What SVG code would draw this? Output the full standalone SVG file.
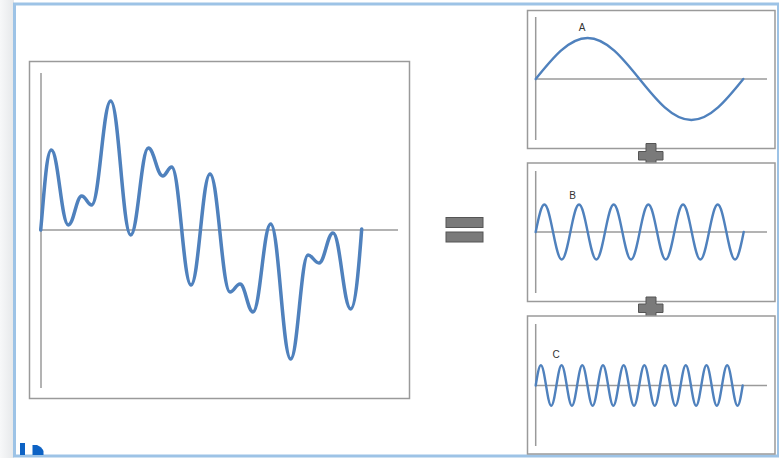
<svg xmlns="http://www.w3.org/2000/svg" width="779" height="458" viewBox="0 0 779 458">
<defs>
<linearGradient id="shade" x1="0" y1="0" x2="1" y2="0">
<stop offset="0" stop-color="#f7f8f9"/>
<stop offset="1" stop-color="#e6e8ea"/>
</linearGradient>
</defs>
<style>
.frame{fill:#fff;stroke:#9a9a9a;stroke-width:1.5}
.axis{stroke:#9a9a9a;stroke-width:1.5;fill:none}
.wave{fill:none;stroke:#4f81bd;stroke-width:2.4;stroke-linejoin:round;stroke-linecap:round}
.bigwave{fill:none;stroke:#4f81bd;stroke-width:3.5;stroke-linejoin:round;stroke-linecap:round}
.op{fill:#7a7a7a;stroke:#555;stroke-width:1}
.lbl{font-family:"Liberation Sans",Arial,sans-serif;font-size:10px;fill:#333;text-anchor:middle}
</style>
<rect x="0" y="0" width="779" height="458" fill="#fff"/>
<rect x="0" y="0" width="14" height="458" fill="url(#shade)"/>
<rect x="14.5" y="4" width="764" height="452" fill="#fff" stroke="#9dc3e6" stroke-width="3"/>
<g id="icons" fill="#0d62c4">
<rect x="20" y="443" width="5" height="12"/>
<path d="M32.5,445 L37,445 Q42,447 43.5,451 L43.5,455 L32.5,455 Z"/>
</g>
<g id="main-chart">
<rect class="frame" x="29.5" y="61.5" width="380" height="337" stroke="#8c8c8c" stroke-width="2"/>
<line class="axis" x1="41" y1="73" x2="41" y2="388"/>
<line class="axis" x1="41" y1="230" x2="398" y2="230"/>
<path class="bigwave" d="M40.7,230 C44,195 46.5,150 51.3,150 C58.1,150 61.5,225 68.3,225 C73.7,225 76.3,196 81.7,196 C85.7,196 87.7,205 91.7,205 C99.3,205 103.1,101 110.7,101 C118.7,101 122.7,235 130.7,235 C137.7,235 141.3,148 148.3,148 C154.1,148 156.9,176 162.7,176 C166.3,176 168.1,167 171.7,167 C179.4,167 183.3,285 191,285 C198.6,285 202.4,174 210,174 C218,174 222,292 230,292 C234,292 236,284 240,284 C245.2,284 247.8,312 253,312 C260.1,312 263.6,224 270.7,224 C278.7,224 282.7,359 290.7,359 C297.6,359 301.1,255 308,255 C312.4,255 314.6,263 319,263 C324.6,263 327.4,233 333,233 C340.1,233 343.6,309 350.7,309 C355.5,309 359,265 361.7,229"/>
</g>
<g id="equals">
<rect class="op" x="446" y="217.5" width="37" height="10"/>
<rect class="op" x="446" y="232" width="37" height="10"/>
</g>
<g id="panel-a">
<rect class="frame" x="527.5" y="10.5" width="247.5" height="138"/>
<line class="axis" x1="535.7" y1="17" x2="535.7" y2="140"/>
<line class="axis" x1="535.7" y1="79" x2="767" y2="79"/>
<path class="wave" d="M535.7,79 C552.6,58 568.8,38 587.6,38 C606.4,38 622.6,58 639.5,79 C656.4,100 672.6,120 691.4,120 C710.2,120 726.4,100 743.3,79"/>
<text class="lbl" x="582" y="30.5">A</text>
</g>
<g id="plus-1">
<path class="op" d="M646,143.5 H656 V151.5 H663 V160 H656 V167 H646 V160 H638.5 V151.5 H646 Z"/>
</g>
<g id="panel-b">
<rect class="frame" x="527.5" y="163" width="247.5" height="138.5"/>
<line class="axis" x1="535.7" y1="171" x2="535.7" y2="293"/>
<line class="axis" x1="535.7" y1="232" x2="767" y2="232"/>
<path class="wave" d="M535.7,232 c2.827,-14.09 5.53,-27.5 8.667,-27.5 c3.137,0 5.84,13.41 8.667,27.5 c2.827,14.09 5.53,27.5 8.667,27.5 c3.137,0 5.84,-13.41 8.667,-27.5 c2.827,-14.09 5.53,-27.5 8.667,-27.5 c3.137,0 5.84,13.41 8.667,27.5 c2.827,14.09 5.53,27.5 8.667,27.5 c3.137,0 5.84,-13.41 8.667,-27.5 c2.827,-14.09 5.53,-27.5 8.667,-27.5 c3.137,0 5.84,13.41 8.667,27.5 c2.827,14.09 5.53,27.5 8.667,27.5 c3.137,0 5.84,-13.41 8.667,-27.5 c2.827,-14.09 5.53,-27.5 8.667,-27.5 c3.137,0 5.84,13.41 8.667,27.5 c2.827,14.09 5.53,27.5 8.667,27.5 c3.137,0 5.84,-13.41 8.667,-27.5 c2.827,-14.09 5.53,-27.5 8.667,-27.5 c3.137,0 5.84,13.41 8.667,27.5 c2.827,14.09 5.53,27.5 8.667,27.5 c3.137,0 5.84,-13.41 8.667,-27.5 c2.827,-14.09 5.53,-27.5 8.667,-27.5 c3.137,0 5.84,13.41 8.667,27.5 c2.827,14.09 5.53,27.5 8.667,27.5 c3.137,0 5.84,-13.41 8.667,-27.5"/>
<text class="lbl" x="572.5" y="198.5">B</text>
</g>
<g id="plus-2">
<path class="op" d="M646,297 H656 V304 H663 V312.5 H656 V319.5 H646 V312.5 H638.5 V304 H646 Z"/>
</g>
<g id="panel-c">
<rect class="frame" x="527.5" y="316" width="247.5" height="138"/>
<line class="axis" x1="535.7" y1="324" x2="535.7" y2="446"/>
<line class="axis" x1="535.7" y1="385.5" x2="767" y2="385.5"/>
<path class="wave" d="M535.7,385.5 c1.688,-10.4 3.302,-20.3 5.175,-20.3 c1.873,0 3.487,9.9 5.175,20.3 c1.688,10.4 3.302,20.3 5.175,20.3 c1.873,0 3.487,-9.9 5.175,-20.3 c1.688,-10.4 3.302,-20.3 5.175,-20.3 c1.873,0 3.487,9.9 5.175,20.3 c1.688,10.4 3.302,20.3 5.175,20.3 c1.873,0 3.487,-9.9 5.175,-20.3 c1.688,-10.4 3.302,-20.3 5.175,-20.3 c1.873,0 3.487,9.9 5.175,20.3 c1.688,10.4 3.302,20.3 5.175,20.3 c1.873,0 3.487,-9.9 5.175,-20.3 c1.688,-10.4 3.302,-20.3 5.175,-20.3 c1.873,0 3.487,9.9 5.175,20.3 c1.688,10.4 3.302,20.3 5.175,20.3 c1.873,0 3.487,-9.9 5.175,-20.3 c1.688,-10.4 3.302,-20.3 5.175,-20.3 c1.873,0 3.487,9.9 5.175,20.3 c1.688,10.4 3.302,20.3 5.175,20.3 c1.873,0 3.487,-9.9 5.175,-20.3 c1.688,-10.4 3.302,-20.3 5.175,-20.3 c1.873,0 3.487,9.9 5.175,20.3 c1.688,10.4 3.302,20.3 5.175,20.3 c1.873,0 3.487,-9.9 5.175,-20.3 c1.688,-10.4 3.302,-20.3 5.175,-20.3 c1.873,0 3.487,9.9 5.175,20.3 c1.688,10.4 3.302,20.3 5.175,20.3 c1.873,0 3.487,-9.9 5.175,-20.3 c1.688,-10.4 3.302,-20.3 5.175,-20.3 c1.873,0 3.487,9.9 5.175,20.3 c1.688,10.4 3.302,20.3 5.175,20.3 c1.873,0 3.487,-9.9 5.175,-20.3 c1.688,-10.4 3.302,-20.3 5.175,-20.3 c1.873,0 3.487,9.9 5.175,20.3 c1.688,10.4 3.302,20.3 5.175,20.3 c1.873,0 3.487,-9.9 5.175,-20.3 c1.688,-10.4 3.302,-20.3 5.175,-20.3 c1.873,0 3.487,9.9 5.175,20.3 c1.688,10.4 3.302,20.3 5.175,20.3 c1.873,0 3.487,-9.9 5.175,-20.3"/>
<text class="lbl" x="556" y="358">C</text>
</g>
</svg>
